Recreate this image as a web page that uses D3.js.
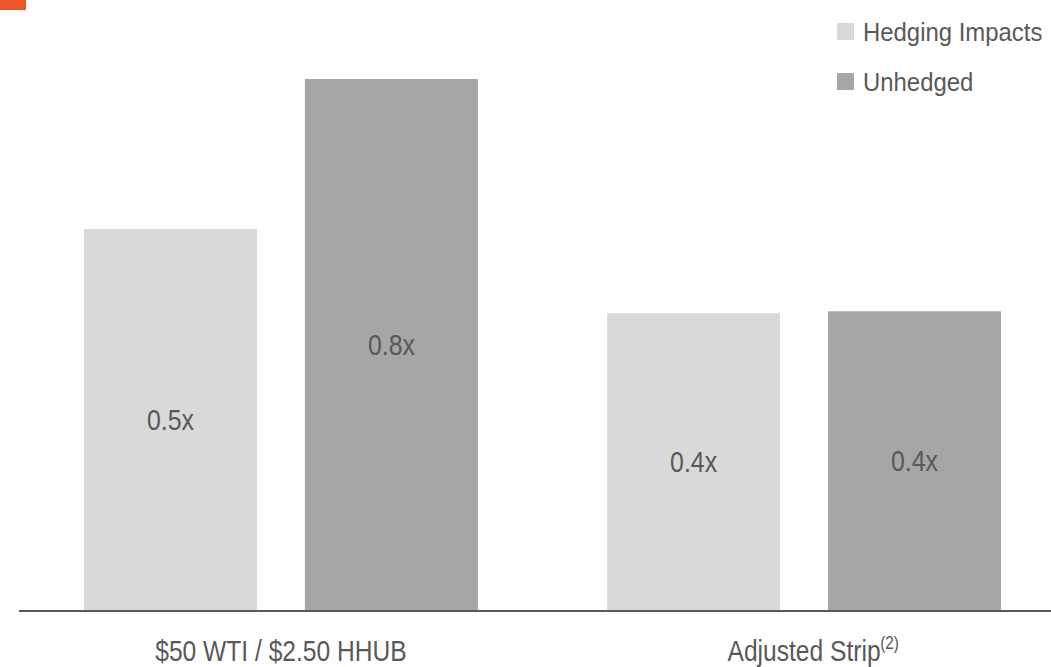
<!DOCTYPE html>
<html>
<head>
<meta charset="utf-8">
<script src="https://cdn.jsdelivr.net/npm/d3@7"></script>
<style>
  html, body { margin: 0; padding: 0; background: #fff; }
  svg { display: block; }
  text { font-family: "Liberation Sans", Arimo, Arial, sans-serif; fill: #595959; }
</style>
</head>
<body>
<svg id="chart" width="1051" height="667"></svg>
<script>
// ---- data ----
const categories = ["$50 WTI / $2.50 HHUB", "Adjusted Strip"];
const categorySup = ["", "(2)"];
const seriesNames = ["Hedging Impacts", "Unhedged"];
const hedgingValues = [0.574, 0.447];
const unhedgedValues = [0.80, 0.450];
const hedgingLabels = ["0.5x", "0.4x"];
const unhedgedLabels = ["0.8x", "0.4x"];
const colors = ["#d9d9d9", "#a6a6a6"];

const W = 1051, H = 667;
const svg = d3.select("#chart");

// horizontally condense text (scaleX about the anchor point) to mimic a condensed face
function condense(sel, factor) {
  sel.each(function() {
    const el = d3.select(this);
    const x = +el.attr("x") || 0;
    el.attr("transform", `translate(${x},0) scale(${factor},1) translate(${-x},0)`);
  });
}

// accent mark
svg.append("rect").attr("x", 0).attr("y", 0).attr("width", 26).attr("height", 10).attr("fill", "#e8562a");

const baseY = 610;
const x0 = d3.scaleBand().domain(categories).range([84, 1001]).paddingInner(0.247).paddingOuter(0);
const x1 = d3.scaleBand().domain(seriesNames).range([0, x0.bandwidth()]).paddingInner(0.217).paddingOuter(0);
const y = d3.scaleLinear().domain([0, 0.8]).range([baseY, 79]);

const rows = categories.map((c, i) => ({
  cat: c,
  bars: [
    { s: seriesNames[0], v: hedgingValues[i], label: hedgingLabels[i], color: colors[0] },
    { s: seriesNames[1], v: unhedgedValues[i], label: unhedgedLabels[i], color: colors[1] }
  ]
}));

const g = svg.append("g");
const groups = g.selectAll("g.grp").data(rows).join("g")
  .attr("class", "grp")
  .attr("transform", d => `translate(${x0(d.cat)},0)`);

groups.selectAll("rect").data(d => d.bars).join("rect")
  .attr("x", d => x1(d.s))
  .attr("y", d => y(d.v))
  .attr("width", x1.bandwidth())
  .attr("height", d => y(0) - y(d.v))
  .attr("fill", d => d.color);

const vals = groups.selectAll("text.val").data(d => d.bars).join("text")
  .attr("class", "val")
  .attr("x", d => x1(d.s) + x1.bandwidth() / 2)
  .attr("y", d => (y(d.v) + y(0)) / 2)
  .attr("dy", "0.36em")
  .attr("text-anchor", "middle")
  .style("font-size", "30px")
  .text(d => d.label);
condense(vals, 0.83);

// axis baseline
svg.append("line").attr("x1", 19).attr("x2", W).attr("y1", baseY + 1).attr("y2", baseY + 1)
  .attr("stroke", "#595959").attr("stroke-width", 2);

// category labels via axis
const axis = svg.append("g").attr("transform", `translate(0,${baseY})`)
  .call(d3.axisBottom(x0).tickSize(0).tickPadding(0).tickFormat(""));
axis.select(".domain").remove();
axis.selectAll(".tick").each(function(d, i) {
  const tick = d3.select(this);
  const t = tick.append("text")
    .attr("x", 0)
    .attr("y", 51)
    .attr("text-anchor", "middle")
    .style("font-size", "30px")
    .style("fill", "#595959")
    .text(d);
  const factor = 0.82;
  const w = t.node().getComputedTextLength() * factor;
  condense(t, factor);
  if (categorySup[i]) {
    const s = tick.append("text")
      .attr("x", w / 2 + 9)
      .attr("y", 39)
      .style("font-size", "18px")
      .style("fill", "#595959")
      .text(categorySup[i]);
    condense(s, 0.85);
  }
});

// legend
const legend = svg.append("g").attr("transform", "translate(837,23)");
const li = legend.selectAll("g").data(seriesNames).join("g")
  .attr("transform", (d, i) => `translate(0,${i * 50})`);
li.append("rect").attr("width", 17).attr("height", 17).attr("fill", (d, i) => colors[i]);
const lt = li.append("text").attr("x", 26).attr("y", 18).style("font-size", "26px").text(d => d);
condense(lt, 0.92);
</script>
</body>
</html>
